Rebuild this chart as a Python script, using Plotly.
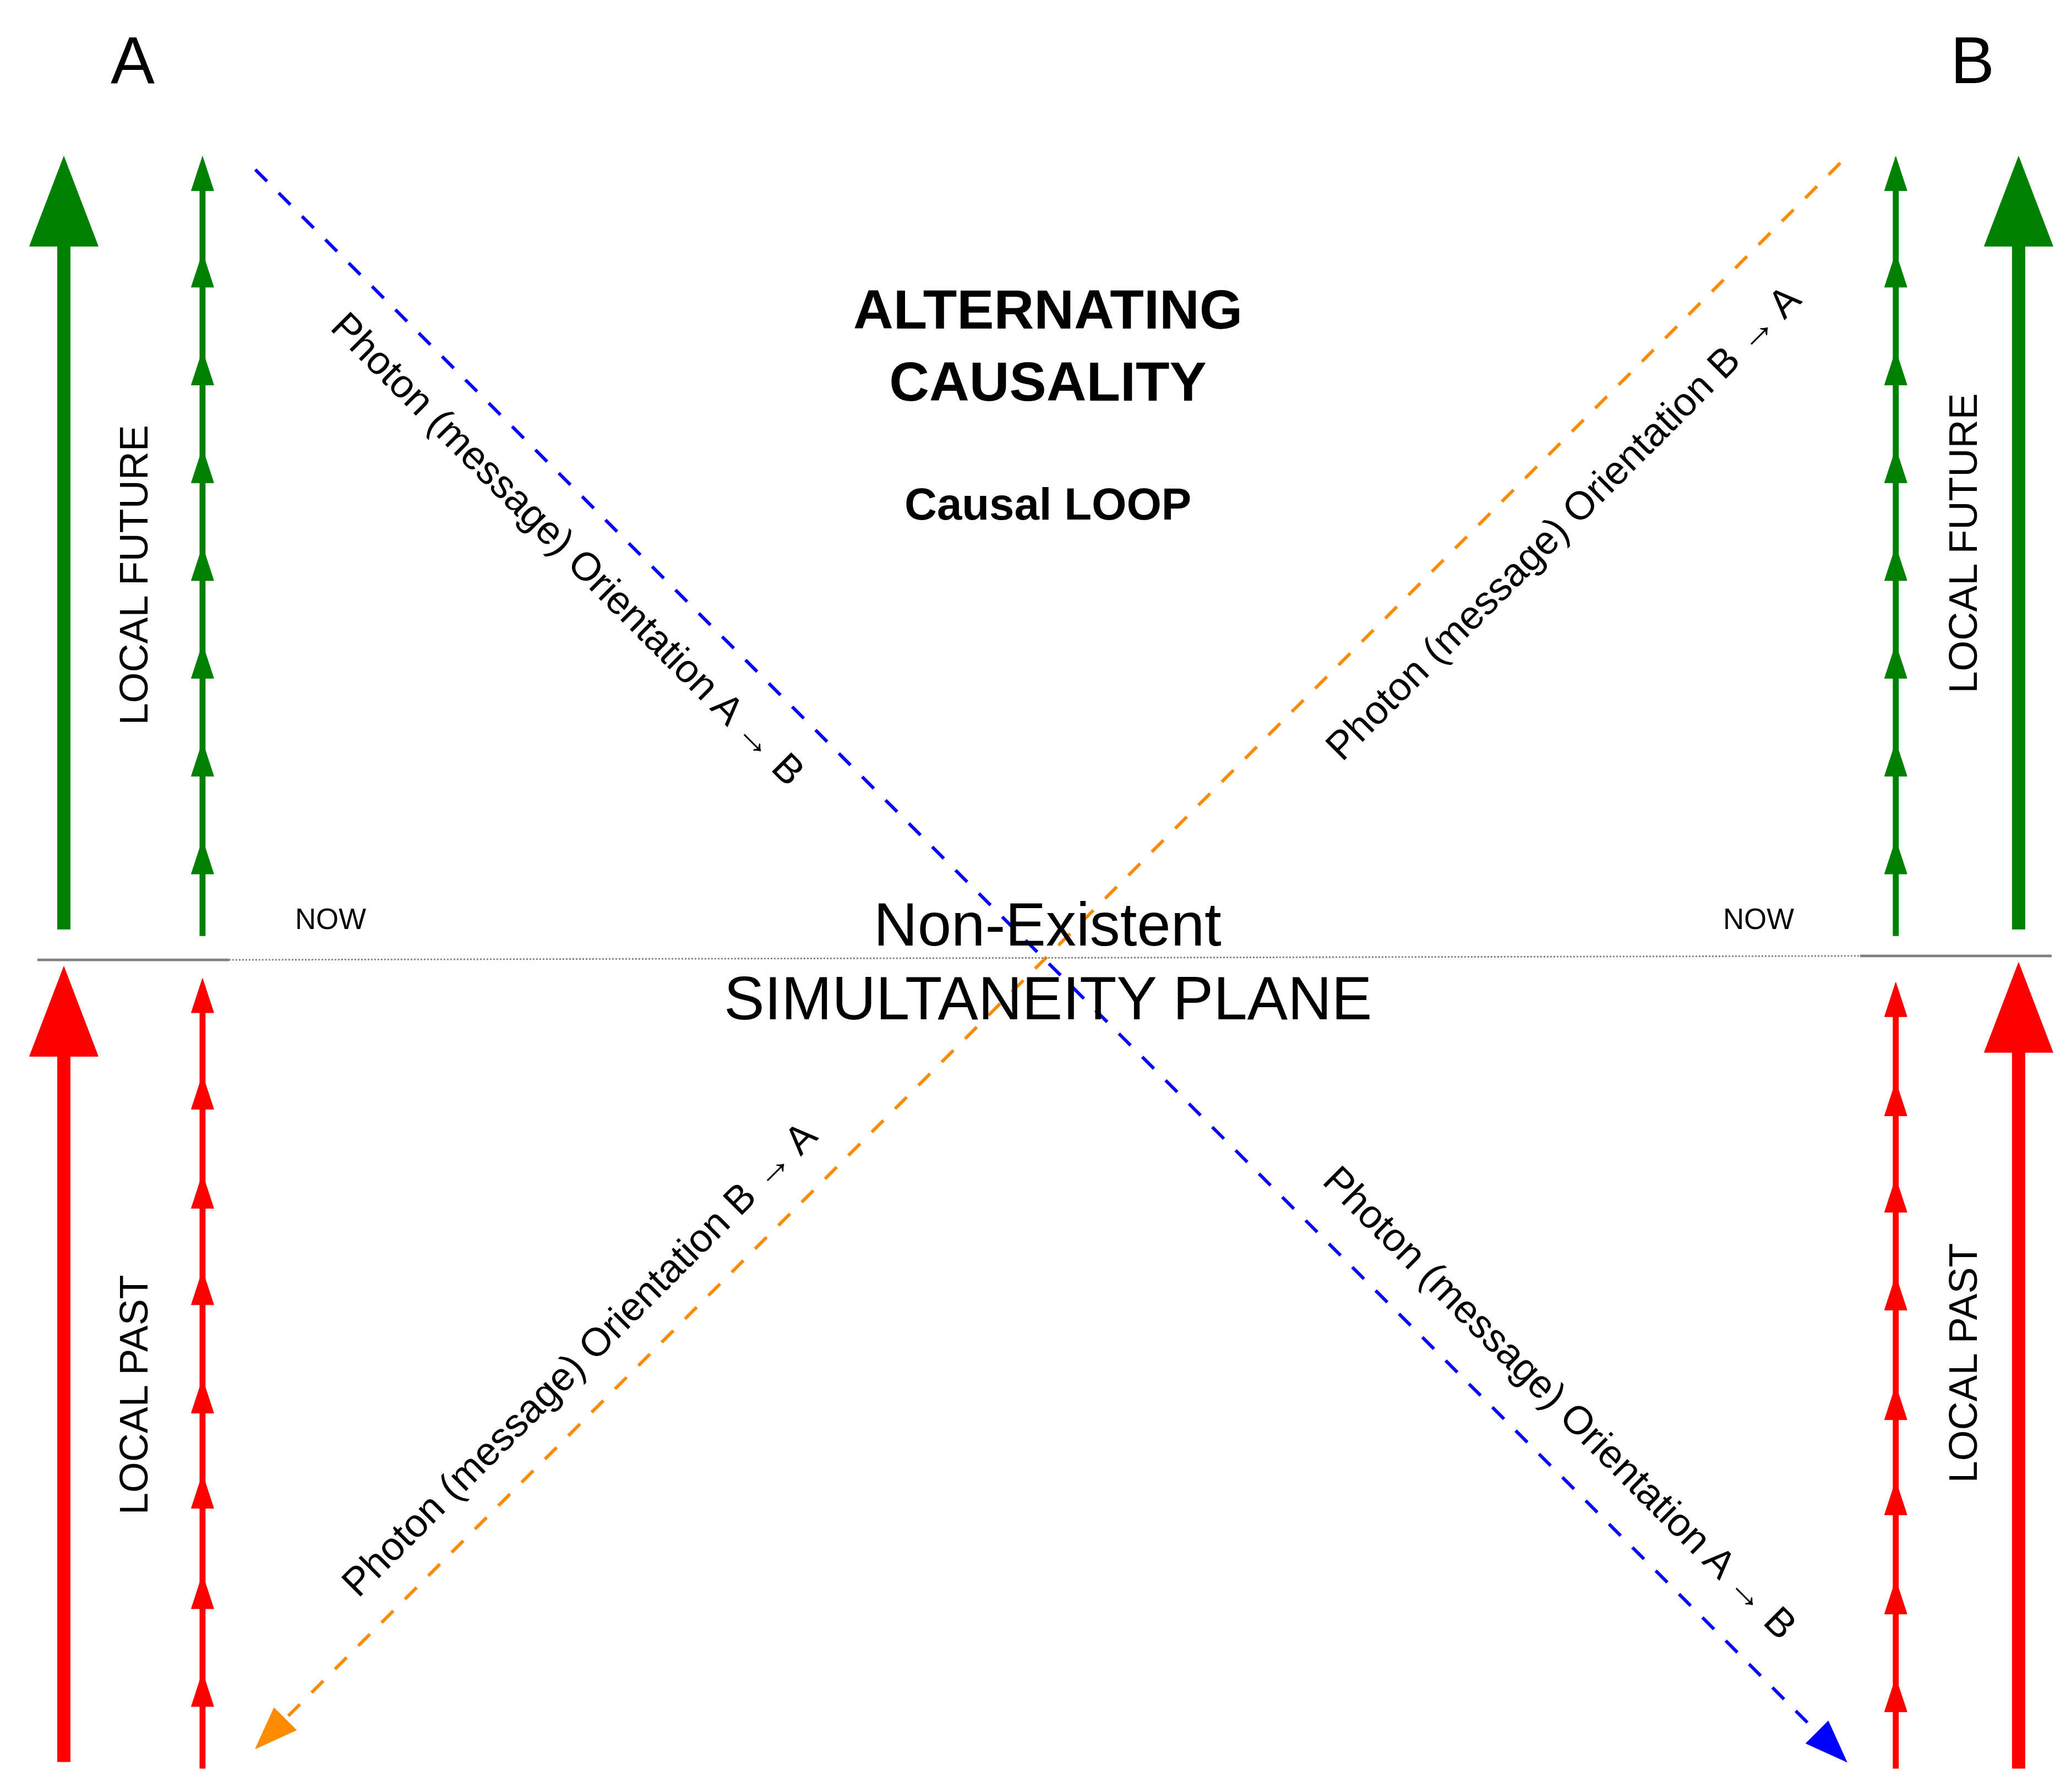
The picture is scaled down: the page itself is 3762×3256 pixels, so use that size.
import numpy as np
import plotly.graph_objects as go

# picture space (reference units), y grows downward
W, H = 1568, 1356
S = 3762 / W

# big arrows: x, bottom, tip
big_green = [(45, 700, 115), (1525, 700, 115)]
big_red = [(45, 1330, 728), (1525, 1335, 725)]
# small arrow chains: x, bottom, list of tips
green_tips = [115, 188, 262, 336, 410, 484, 558, 632]
red_tips_left = [737, 810, 885, 958, 1040, 1112, 1188, 1262]
red_tips_right = [740, 815, 888, 962, 1045, 1117, 1192, 1266]
small_chains = [
    (150, 705, green_tips, "green"),
    (1432, 705, green_tips, "green"),
    (150, 1335, red_tips_left, "red"),
    (1432, 1335, red_tips_right, "red"),
]
# photon paths: start, end, colour
photons = [((190, 125), (1395, 1330), "blue"), ((1390, 120), (190, 1320), "darkorange")]

fig = go.Figure()


def head(tip, direction, length, width, color):
    d = np.array(direction, float)
    d /= np.linalg.norm(d)
    n = np.array([-d[1], d[0]])
    t = np.array(tip, float)
    b = t - d * length
    pts = [t, b + n * width / 2, b - n * width / 2, t]
    fig.add_trace(go.Scatter(x=[p[0] for p in pts], y=[p[1] for p in pts], mode="lines",
                             fill="toself", fillcolor=color, line=dict(color=color, width=1),
                             hoverinfo="skip", showlegend=False))


def line(xs, ys, color, width, dash="solid"):
    fig.add_trace(go.Scatter(x=xs, y=ys, mode="lines", line=dict(color=color, width=width * S, dash=dash),
                             hoverinfo="skip", showlegend=False))


for arrows, col in [(big_green, "green"), (big_red, "red")]:
    for x, bot, tip in arrows:
        line([x, x], [bot, tip + 50], col, 10)
        head((x, tip), (0, -1), 68, 52, col)

for x, bot, tips, col in small_chains:
    line([x, x], [bot, tips[0] + 10], col, 4.5)
    for t in tips:
        head((x, t), (0, -1), 26, 17, col)

for (x0, y0), (x1, y1), col in photons:
    line([x0, x1 - (x1 - x0) * 0.02], [y0, y1 - (y1 - y0) * 0.02], col, 2.5, "longdash")
    head((x1, y1), (x1 - x0, y1 - y0), 32, 24, col)

# simultaneity plane
line([25, 170], [723, 723], "gray", 2)
line([1405, 1550], [720, 720], "gray", 2)
line([170, 1405], [723, 720], "gray", 1.2, "dot")

texts = [
    ("A", 97, 42, 50, 0, False),
    ("B", 1490, 42, 50, 0, False),
    ("ALTERNATING<br>CAUSALITY", 790, 258, 42, 0, True),
    ("Causal LOOP", 790, 378, 34, 0, True),
    ("Non-Existent", 790, 696, 46, 0, False),
    ("SIMULTANEITY PLANE", 790, 752, 46, 0, False),
    ("NOW", 247, 692, 22, 0, False),
    ("NOW", 1328, 692, 22, 0, False),
    ("LOCAL FUTURE", 98, 432, 30, -90, False),
    ("LOCAL PAST", 98, 1052, 30, -90, False),
    ("LOCAL FUTURE", 1483, 408, 30, -90, False),
    ("LOCAL PAST", 1483, 1028, 30, -90, False),
    ("Photon (message) Orientation A → B", 427, 412, 30, 45, False),
    ("Photon (message) Orientation A → B", 1178, 1058, 30, 45, False),
    ("Photon (message) Orientation B → A", 1180, 392, 30, -45, False),
    ("Photon (message) Orientation B → A", 435, 1025, 30, -45, False),
]
for t, x, y, size, ang, bold in texts:
    fig.add_annotation(x=x, y=y, text=f"<b>{t}</b>" if bold else t, showarrow=False, textangle=ang,
                       font=dict(family="Liberation Sans", size=size * S, color="black"))

fig.update_xaxes(range=[0, W], visible=False)
fig.update_yaxes(range=[H, 0], visible=False)
fig.update_layout(width=3762, height=3256, margin=dict(l=0, r=0, t=0, b=0),
                  plot_bgcolor="white", paper_bgcolor="white")
fig.write_html("out.html")
